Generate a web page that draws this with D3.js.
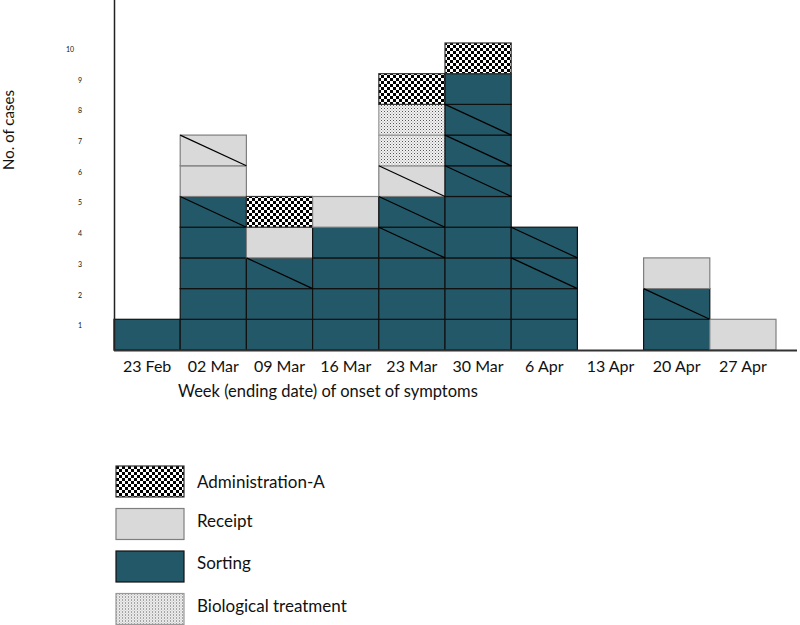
<!DOCTYPE html>
<meta charset="utf-8">
<style>
  body { margin: 0; background: #fff; }
  text { font-family: Lato, "Open Sans", sans-serif; fill: #111; }
</style>
<script src="https://d3js.org/d3.v7.min.js"></script>
<div id="my_dataviz"></div>
<script>
// data
var weeks = ["23 Feb", "02 Mar", "09 Mar", "16 Mar", "23 Mar", "30 Mar", "6 Apr", "13 Apr", "20 Apr", "27 Apr"];
var categories = ["Administration-A", "Receipt", "Sorting", "Biological treatment"];
// one entry per case, bottom to top
var stacks = [
  ["Sorting"],
  ["Sorting", "Sorting", "Sorting", "Sorting", "Sorting", "Receipt", "Receipt"],
  ["Sorting", "Sorting", "Sorting", "Receipt", "Administration-A"],
  ["Sorting", "Sorting", "Sorting", "Sorting", "Receipt"],
  ["Sorting", "Sorting", "Sorting", "Sorting", "Sorting", "Receipt", "Biological treatment", "Biological treatment", "Administration-A"],
  ["Sorting", "Sorting", "Sorting", "Sorting", "Sorting", "Sorting", "Sorting", "Sorting", "Sorting", "Administration-A"],
  ["Sorting", "Sorting", "Sorting", "Sorting"],
  [],
  ["Sorting", "Sorting", "Receipt"],
  ["Receipt"]
];
// case numbers (1 = bottom) that carry a diagonal stroke
var slashed = [[], [5, 7], [3], [], [4, 5, 6], [6, 7, 8], [3, 4], [], [2], []];
var yTicks = [1, 2, 3, 4, 5, 6, 7, 8, 9, 10];

var width = 800, height = 625;

var svg = d3.select("#my_dataviz")
  .append("svg")
    .attr("width", width)
    .attr("height", height);

// patterns
var defs = svg.append("defs");
var checker = defs.append("pattern")
    .attr("id", "checker")
    .attr("patternUnits", "userSpaceOnUse")
    .attr("width", 6).attr("height", 6);
checker.append("rect").attr("width", 6).attr("height", 6).attr("fill", "#fff");
checker.append("rect").attr("width", 3).attr("height", 3).attr("fill", "#000");
checker.append("rect").attr("x", 3).attr("y", 3).attr("width", 3).attr("height", 3).attr("fill", "#000");

var dots = defs.append("pattern")
    .attr("id", "dots")
    .attr("patternUnits", "userSpaceOnUse")
    .attr("width", 3).attr("height", 3);
dots.append("rect").attr("width", 3).attr("height", 3).attr("fill", "#f2f2f2");
dots.append("rect").attr("width", 1).attr("height", 1).attr("fill", "#555");
dots.append("rect").attr("x", 1.5).attr("y", 1.5).attr("width", 1).attr("height", 1).attr("fill", "#999");

var fills = {
  "Administration-A": "url(#checker)",
  "Receipt": "#d9d9d9",
  "Sorting": "#235868",
  "Biological treatment": "url(#dots)"
};
var strokes = {
  "Administration-A": "#333",
  "Receipt": "#7f7f7f",
  "Sorting": "#111",
  "Biological treatment": "#999"
};

// scales
var x = d3.scaleBand()
  .domain(weeks)
  .range([114, 776])
  .padding(0);

var y = d3.scaleLinear()
  .domain([0, 11.4])
  .range([350, 0]);

// flatten to cells
var cells = [];
stacks.forEach(function(s, i) {
  s.forEach(function(cat, j) {
    cells.push({week: weeks[i], cat: cat, n: j + 1, slash: slashed[i].indexOf(j + 1) >= 0});
  });
});

svg.append("g")
  .selectAll("rect")
  .data(cells)
  .enter()
  .append("rect")
    .attr("x", function(d) { return x(d.week) })
    .attr("y", function(d) { return y(d.n) })
    .attr("width", x.bandwidth())
    .attr("height", function(d) { return y(d.n - 1) - y(d.n) })
    .attr("fill", function(d) { return fills[d.cat] })
    .attr("stroke", function(d) { return strokes[d.cat] })
    .attr("stroke-width", 1.2);

svg.append("g")
  .selectAll("line")
  .data(cells.filter(function(d) { return d.slash }))
  .enter()
  .append("line")
    .attr("x1", function(d) { return x(d.week) })
    .attr("y1", function(d) { return y(d.n) })
    .attr("x2", function(d) { return x(d.week) + x.bandwidth() })
    .attr("y2", function(d) { return y(d.n - 1) })
    .attr("stroke", "#000")
    .attr("stroke-width", 1.2);

// axes
svg.append("line")
  .attr("x1", 114.5).attr("x2", 114.5)
  .attr("y1", y(11.4)).attr("y2", y(0) + 1)
  .attr("stroke", "#222").attr("stroke-width", 1.5);
svg.append("line")
  .attr("x1", 114).attr("x2", 797)
  .attr("y1", y(0) + 0.5).attr("y2", y(0) + 0.5)
  .attr("stroke", "#333").attr("stroke-width", 2);

var xAxis = svg.append("g")
  .attr("transform", "translate(0," + y(0) + ")")
  .call(d3.axisBottom(x).tickSize(0).tickPadding(11));
xAxis.select(".domain").remove();
xAxis.selectAll("text")
  .style("font-family", "Lato, sans-serif")
  .style("font-size", "16px")
  .attr("fill", "#111");

svg.append("g")
  .selectAll("text")
  .data(yTicks)
  .enter()
  .append("text")
    .attr("x", function(d) { return d < 10 ? 82 : 74 })
    .attr("y", function(d) { return y(d) + 9 })
    .attr("text-anchor", "end")
    .style("font-size", "7px")
    .attr("fill", "#333")
    .text(function(d) { return d });

svg.append("text")
  .attr("x", 178)
  .attr("y", 397)
  .style("font-size", "16.5px")
  .text("Week (ending date) of onset of symptoms");

svg.append("text")
  .attr("transform", "translate(14,130) rotate(-90)")
  .attr("text-anchor", "middle")
  .style("font-size", "15px")
  .text("No. of cases");

// legend
var legend = svg.append("g")
  .selectAll("g")
  .data(categories)
  .enter()
  .append("g")
    .attr("transform", function(d, i) { return "translate(116," + (466 + i * 42.5) + ")" });
legend.append("rect")
  .attr("width", 68)
  .attr("height", 31)
  .attr("fill", function(d) { return fills[d] })
  .attr("stroke", function(d) { return strokes[d] })
  .attr("stroke-width", 1.2);
legend.append("text")
  .attr("x", 81)
  .attr("y", function(d, i) { return i == 0 ? 22 : 18 })
  .style("font-size", "17px")
  .text(function(d) { return d });
</script>
